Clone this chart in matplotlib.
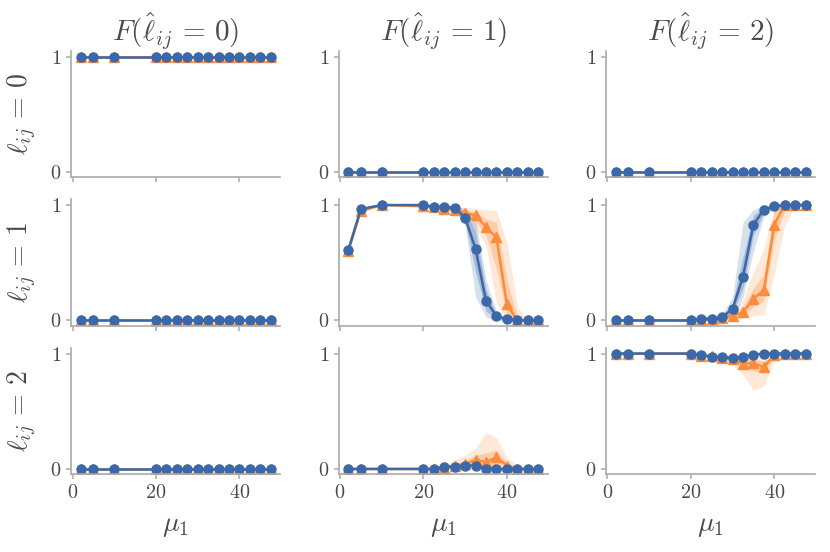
import numpy as np
import matplotlib
matplotlib.use('Agg')
import matplotlib.pyplot as plt

plt.rcParams['font.family'] = 'serif'
plt.rcParams['font.serif'] = ['cmr10', 'DejaVu Serif']
plt.rcParams['mathtext.fontset'] = 'cm'
plt.rcParams['axes.formatter.use_mathtext'] = True
plt.rcParams['axes.unicode_minus'] = False

blue = '#3a68a8'
orange = '#fb8c3c'
txt = '#4a4a4a'
gray = '#aaaaaa'

mu1 = [2, 5, 10, 20, 22.5, 25, 27.5, 30, 32.5, 35, 37.5, 40, 42.5, 45, 47.5]
ones = [1] * 15
zeros = [0] * 15

# row = true class, col = predicted class
blue_mean = {
    (0, 0): ones, (0, 1): zeros, (0, 2): zeros,
    (1, 0): zeros,
    (1, 1): [0.61, 0.965, 1, 1, 0.985, 0.985, 0.977, 0.89, 0.62, 0.17, 0.04, 0.01, 0, 0, 0],
    (1, 2): [0, 0, 0, 0, 0.015, 0.015, 0.03, 0.10, 0.38, 0.83, 0.96, 0.99, 1, 1, 1],
    (2, 0): zeros,
    (2, 1): [0, 0, 0, 0, 0.0, 0.02, 0.02, 0.03, 0.03, 0, 0, 0, 0, 0, 0],
    (2, 2): [1, 1, 1, 1, 0.99, 0.97, 0.97, 0.96, 0.97, 0.99, 1, 1, 1, 1, 1],
}
orange_mean = {
    (0, 0): ones, (0, 1): zeros, (0, 2): zeros,
    (1, 0): zeros,
    (1, 1): [0.6, 0.95, 1, 0.99, 0.98, 0.97, 0.96, 0.93, 0.91, 0.81, 0.72, 0.14, 0, 0, 0],
    (1, 2): [0, 0, 0, 0, 0, 0.01, 0.02, 0.04, 0.07, 0.19, 0.26, 0.83, 1, 1, 1],
    (2, 0): zeros,
    (2, 1): [0, 0, 0, 0, 0, 0.01, 0.03, 0.04, 0.08, 0.06, 0.10, 0.03, 0, 0, 0],
    (2, 2): [1, 1, 1, 1, 0.98, 0.98, 0.96, 0.95, 0.91, 0.92, 0.88, 0.99, 1, 1, 1],
}

# bands: (outer_lo, outer_hi, inner_lo, inner_hi)
blue_band = {
    (1, 1): ([0.6, 0.95, 1, 1, 0.97, 0.97, 0.95, 0.82, 0.20, 0.03, 0.0, 0, 0, 0, 0],
             [0.63, 0.98, 1, 1, 1.0, 1.0, 0.99, 0.97, 0.88, 0.35, 0.08, 0.02, 0, 0, 0],
             [0.6, 0.96, 1, 1, 0.98, 0.98, 0.96, 0.86, 0.42, 0.08, 0.02, 0, 0, 0, 0],
             [0.62, 0.97, 1, 1, 0.99, 0.99, 0.98, 0.93, 0.78, 0.27, 0.05, 0.01, 0, 0, 0]),
    (1, 2): ([0, 0, 0, 0, 0.0, 0.0, 0.01, 0.02, 0.20, 0.60, 0.90, 0.97, 1, 1, 1],
             [0, 0, 0, 0, 0.03, 0.03, 0.06, 0.20, 0.85, 0.96, 1.0, 1.0, 1, 1, 1],
             [0, 0, 0, 0, 0.01, 0.01, 0.02, 0.06, 0.28, 0.74, 0.93, 0.98, 1, 1, 1],
             [0, 0, 0, 0, 0.02, 0.02, 0.04, 0.15, 0.55, 0.91, 0.98, 1.0, 1, 1, 1]),
}
orange_band = {
    (1, 1): ([0.58, 0.93, 1, 0.98, 0.96, 0.95, 0.93, 0.88, 0.80, 0.65, 0.15, 0.0, 0, 0, 0],
             [0.62, 0.97, 1, 1.0, 1.0, 0.99, 0.98, 0.98, 0.97, 0.96, 0.95, 0.68, 0.12, 0, 0],
             [0.59, 0.94, 1, 0.99, 0.97, 0.96, 0.95, 0.90, 0.86, 0.74, 0.45, 0.05, 0, 0, 0],
             [0.61, 0.96, 1, 1.0, 0.99, 0.98, 0.97, 0.96, 0.94, 0.88, 0.85, 0.35, 0.03, 0, 0]),
    (1, 2): ([0, 0, 0, 0, 0, 0.0, 0.0, 0.01, 0.02, 0.04, 0.05, 0.40, 0.82, 1, 1],
             [0, 0, 0, 0, 0, 0.02, 0.04, 0.08, 0.18, 0.42, 0.62, 0.99, 1.0, 1, 1],
             [0, 0, 0, 0, 0, 0.0, 0.01, 0.02, 0.04, 0.12, 0.17, 0.70, 0.95, 1, 1],
             [0, 0, 0, 0, 0, 0.01, 0.03, 0.06, 0.12, 0.28, 0.40, 0.95, 1.0, 1, 1]),
    (2, 1): ([0, 0, 0, 0, 0, 0.0, 0.0, 0.0, 0.0, 0.0, 0.0, 0.0, 0, 0, 0],
             [0, 0, 0, 0, 0.01, 0.03, 0.08, 0.12, 0.18, 0.32, 0.27, 0.10, 0.03, 0, 0],
             [0, 0, 0, 0, 0, 0.0, 0.01, 0.02, 0.04, 0.02, 0.04, 0.01, 0, 0, 0],
             [0, 0, 0, 0, 0, 0.02, 0.05, 0.07, 0.12, 0.14, 0.16, 0.06, 0.01, 0, 0]),
    (2, 2): ([1, 1, 1, 1, 0.97, 0.96, 0.93, 0.90, 0.82, 0.68, 0.72, 0.93, 1, 1, 1],
             [1, 1, 1, 1, 1.0, 1.0, 0.99, 0.99, 0.99, 0.97, 0.98, 1.0, 1, 1, 1],
             [1, 1, 1, 1, 0.98, 0.97, 0.95, 0.93, 0.87, 0.85, 0.83, 0.97, 1, 1, 1],
             [1, 1, 1, 1, 0.99, 0.99, 0.97, 0.97, 0.95, 0.96, 0.93, 1.0, 1, 1, 1]),
}

col_titles = [r'$F(\hat{\ell}_{ij}\,=\,0)$', r'$F(\hat{\ell}_{ij}\,=\,1)$', r'$F(\hat{\ell}_{ij}\,=\,2)$']
row_labels = [r'$\ell_{ij}\,=\,0$', r'$\ell_{ij}\,=\,1$', r'$\ell_{ij}\,=\,2$']

fig, axes = plt.subplots(3, 3, figsize=(8.3, 5.52), dpi=100, sharex=True)
fig.subplots_adjust(left=0.086, right=0.982, top=0.908, bottom=0.141, hspace=0.175, wspace=0.28)

for r in range(3):
    for c in range(3):
        ax = axes[r, c]
        key = (r, c)
        if key in orange_band:
            olo, ohi, ilo, ihi = orange_band[key]
            ax.fill_between(mu1, olo, ohi, color=orange, alpha=0.2, lw=0)
            ax.fill_between(mu1, ilo, ihi, color=orange, alpha=0.3, lw=0)
        if key in blue_band:
            olo, ohi, ilo, ihi = blue_band[key]
            ax.fill_between(mu1, olo, ohi, color=blue, alpha=0.2, lw=0)
            ax.fill_between(mu1, ilo, ihi, color=blue, alpha=0.3, lw=0)
        ax.plot(mu1, orange_mean[key], '-^', color=orange, lw=1.8, ms=6.5)
        ax.plot(mu1, blue_mean[key], '-o', color=blue, lw=1.8, ms=6.5)

        ax.set_ylim(-0.045, 1.05)
        ax.set_yticks([0, 1])
        ax.set_xticks([0, 20, 40])
        ax.spines['top'].set_visible(False)
        ax.spines['right'].set_visible(False)
        for s in ['left', 'bottom']:
            ax.spines[s].set_color(gray)
            ax.spines[s].set_linewidth(1.2)
        ax.tick_params(colors=gray, labelcolor=txt, labelsize=14.5, length=3.5, width=1.1)
        if r == 0:
            ax.set_title(col_titles[c], fontsize=21, color=txt, pad=8)
        if c == 0:
            ax.set_ylabel(row_labels[r], fontsize=20, color=txt, labelpad=8)
        if r == 2:
            ax.set_xlabel(r'$\mu_1$', fontsize=20, color=txt, labelpad=8)

plt.savefig('out.png')
